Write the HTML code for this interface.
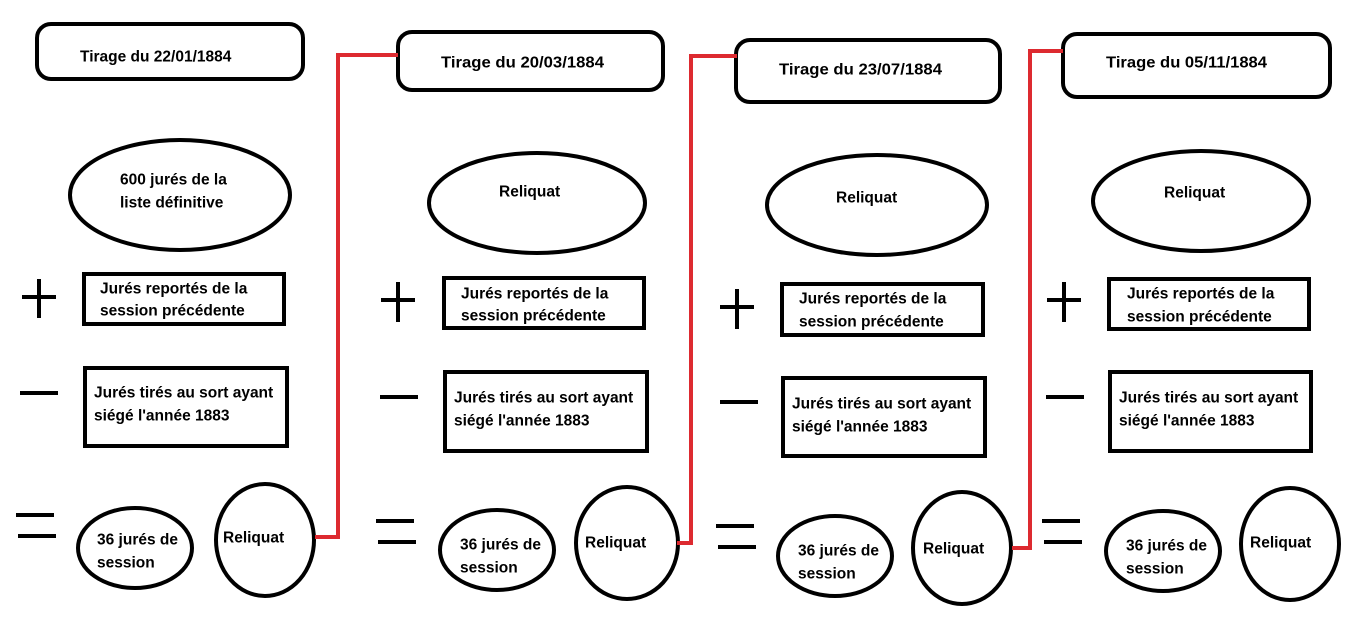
<!DOCTYPE html>
<html><head><meta charset="utf-8"><style>
html,body{margin:0;padding:0;background:#fff;}
svg{display:block;}
text{font-family:"Liberation Sans",Arial,sans-serif;font-weight:bold;font-size:15.5px;fill:#000;dominant-baseline:central;}
</style></head><body>
<svg width="1360" height="624" viewBox="0 0 1360 624" xmlns="http://www.w3.org/2000/svg">
<g fill="none" stroke="#000" stroke-width="4">
<!-- column 1 -->
<rect x="37" y="24" width="266" height="55" rx="14"/>
<ellipse cx="180" cy="195" rx="110" ry="55"/>
<line x1="22" y1="297" x2="56" y2="297"/><line x1="39" y1="279" x2="39" y2="318"/>
<rect x="84" y="274" width="200" height="50"/>
<line x1="20" y1="393" x2="58" y2="393"/>
<rect x="85" y="368" width="202" height="78"/>
<line x1="16" y1="515" x2="54" y2="515"/><line x1="18" y1="536" x2="56" y2="536"/>
<ellipse cx="135" cy="548" rx="57" ry="40"/>
<ellipse cx="265" cy="540" rx="49" ry="56"/>
<!-- column 2 -->
<rect x="398" y="32" width="265" height="58" rx="14"/>
<ellipse cx="537" cy="203" rx="108" ry="50"/>
<line x1="381" y1="300" x2="415" y2="300"/><line x1="398" y1="282" x2="398" y2="322"/>
<rect x="444" y="278" width="200" height="50"/>
<line x1="380" y1="397" x2="418" y2="397"/>
<rect x="445" y="372" width="202" height="79"/>
<line x1="376" y1="521" x2="414" y2="521"/><line x1="378" y1="542" x2="416" y2="542"/>
<ellipse cx="497" cy="550" rx="57" ry="40"/>
<ellipse cx="627" cy="543" rx="51" ry="56"/>
<!-- column 3 -->
<rect x="736" y="40" width="264" height="62" rx="14"/>
<ellipse cx="877" cy="205" rx="110" ry="50"/>
<line x1="720" y1="307" x2="754" y2="307"/><line x1="737" y1="289" x2="737" y2="329"/>
<rect x="782" y="284" width="201" height="51"/>
<line x1="720" y1="402" x2="758" y2="402"/>
<rect x="783" y="378" width="202" height="78"/>
<line x1="716" y1="526" x2="754" y2="526"/><line x1="718" y1="547" x2="756" y2="547"/>
<ellipse cx="835" cy="556" rx="57" ry="40"/>
<ellipse cx="962" cy="548" rx="49" ry="56"/>
<!-- column 4 -->
<rect x="1063" y="34" width="267" height="63" rx="14"/>
<ellipse cx="1201" cy="201" rx="108" ry="50"/>
<line x1="1047" y1="300" x2="1081" y2="300"/><line x1="1064" y1="282" x2="1064" y2="322"/>
<rect x="1109" y="279" width="200" height="50"/>
<line x1="1046" y1="397" x2="1084" y2="397"/>
<rect x="1110" y="372" width="201" height="79"/>
<line x1="1042" y1="521" x2="1080" y2="521"/><line x1="1044" y1="542" x2="1082" y2="542"/>
<ellipse cx="1163" cy="551" rx="57" ry="40"/>
<ellipse cx="1290" cy="544" rx="49" ry="56"/>
</g>
<g fill="none" stroke="#dd2a30" stroke-width="4">
<polyline points="315,537 338,537 338,55 398,55"/>
<polyline points="677,543 691,543 691,56 737,56"/>
<polyline points="1012,548 1030,548 1030,51 1063,51"/>
</g>
<!-- text column 1 -->
<text x="80" y="57">Tirage du 22/01/1884</text>
<text x="120" y="180">600 jurés de la</text>
<text x="120" y="203">liste définitive</text>
<text x="100" y="289">Jurés reportés de la</text>
<text x="100" y="311">session précédente</text>
<text x="94" y="393">Jurés tirés au sort ayant</text>
<text x="94" y="416">siégé l'année 1883</text>
<text x="97" y="540">36 jurés de</text>
<text x="97" y="563">session</text>
<text x="223" y="538">Reliquat</text>
<!-- column 2 -->
<text x="441" y="63" textLength="163" lengthAdjust="spacingAndGlyphs">Tirage du   20/03/1884</text>
<text x="499" y="192">Reliquat</text>
<text x="461" y="294">Jurés reportés de la</text>
<text x="461" y="316">session précédente</text>
<text x="454" y="398">Jurés tirés au sort ayant</text>
<text x="454" y="421">siégé l'année 1883</text>
<text x="460" y="545">36 jurés de</text>
<text x="460" y="568">session</text>
<text x="585" y="543">Reliquat</text>
<!-- column 3 -->
<text x="779" y="70" textLength="163" lengthAdjust="spacingAndGlyphs">Tirage du   23/07/1884</text>
<text x="836" y="198">Reliquat</text>
<text x="799" y="299">Jurés reportés de la</text>
<text x="799" y="322">session précédente</text>
<text x="792" y="404">Jurés tirés au sort ayant</text>
<text x="792" y="427">siégé l'année 1883</text>
<text x="798" y="551">36 jurés de</text>
<text x="798" y="574">session</text>
<text x="923" y="549">Reliquat</text>
<!-- column 4 -->
<text x="1106" y="63" textLength="161" lengthAdjust="spacingAndGlyphs">Tirage du   05/11/1884</text>
<text x="1164" y="193">Reliquat</text>
<text x="1127" y="294">Jurés reportés de la</text>
<text x="1127" y="317">session précédente</text>
<text x="1119" y="398">Jurés tirés au sort ayant</text>
<text x="1119" y="421">siégé l'année 1883</text>
<text x="1126" y="546">36 jurés de</text>
<text x="1126" y="569">session</text>
<text x="1250" y="543">Reliquat</text>
</svg>
</body></html>
